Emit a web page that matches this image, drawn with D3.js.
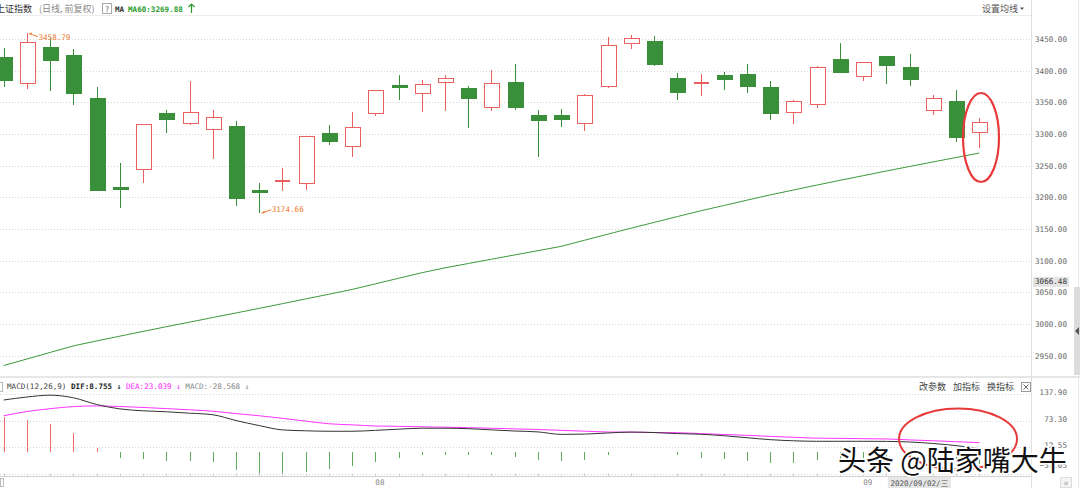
<!DOCTYPE html>
<html><head><meta charset="utf-8">
<script src="https://cdn.jsdelivr.net/npm/d3@7"></script>
<style>html,body{margin:0;padding:0;background:#fff;overflow:hidden}</style>
</head><body><svg id="c" width="1080" height="488"></svg>
<script>
// ---------- data (上证指数 daily, 2020-07-10 .. 2020-09-08) ----------
const dates = ["2020-07-10","2020-07-13","2020-07-14","2020-07-15","2020-07-16","2020-07-17","2020-07-20","2020-07-21","2020-07-22","2020-07-23","2020-07-24","2020-07-27","2020-07-28","2020-07-29","2020-07-30","2020-07-31",
"2020-08-03","2020-08-04","2020-08-05","2020-08-06","2020-08-07","2020-08-10","2020-08-11","2020-08-12","2020-08-13","2020-08-14","2020-08-17","2020-08-18","2020-08-19","2020-08-20","2020-08-21","2020-08-24","2020-08-25","2020-08-26","2020-08-27","2020-08-28","2020-08-31",
"2020-09-01","2020-09-02","2020-09-03","2020-09-04","2020-09-07","2020-09-08"];
const openV  = [3420.5,3380.0,3435.8,3423.2,3356.8,3216.0,3244.2,3332.1,3316.8,3307.4,3312.1,3210.0,3226.5,3222.1,3300.0,3281.0,3332.6,3377.0,3363.7,3381.6,3372.1,3342.1,3380.5,3328.4,3329.5,3316.8,3374.2,3443.2,3445.3,3387.4,3381.0,3392.1,3394.7,3373.2,3334.2,3346.8,3417.9,3391.0,3422.1,3405.3,3337.4,3351.0,3302.6];
const highV  = [3435.3,3458.79,3451.0,3433.7,3374.7,3253.7,3316.0,3337.9,3383.2,3337.9,3320.5,3222.1,3245.8,3296.0,3313.7,3334.7,3369.5,3392.6,3384.7,3393.2,3375.8,3401.0,3410.5,3337.4,3339.5,3363.2,3452.6,3456.0,3455.0,3395.8,3394.7,3398.4,3410.5,3384.2,3353.7,3407.4,3444.2,3413.0,3423.2,3426.3,3361.6,3370.0,3324.7];
const lowV   = [3374.2,3370.5,3367.9,3346.3,3209.5,3182.6,3222.1,3302.1,3313.7,3260.0,3186.8,3174.66,3210.5,3211.6,3283.1,3263.1,3328.9,3353.7,3335.3,3336.8,3308.9,3336.8,3337.4,3264.2,3311.6,3304.7,3372.1,3434.2,3407.4,3353.7,3359.5,3368.9,3365.3,3322.1,3315.3,3341.1,3396.5,3383.2,3378.9,3376.3,3330.5,3286.8,3278.4];
const closeV = [3384.7,3444.2,3416.3,3363.2,3211.0,3214.0,3315.3,3322.1,3334.2,3326.3,3198.4,3208.0,3228.0,3295.3,3288.4,3310.5,3368.9,3375.5,3378.4,3387.4,3356.3,3380.0,3342.1,3321.0,3322.1,3361.0,3440.5,3451.5,3409.5,3365.8,3382.0,3386.8,3374.7,3331.6,3351.0,3405.3,3397.4,3412.1,3407.4,3386.8,3356.3,3294.2,3317.9];
const ma60V  = [2934.3,2944.6,2955.0,2965.3,2973.2,2980.7,2988.2,2995.6,3002.8,3010.1,3017.3,3024.6,3032.0,3039.5,3046.9,3054.5,3063.3,3072.1,3080.9,3088.6,3095.4,3102.2,3109.0,3115.7,3122.5,3132.1,3141.7,3151.2,3160.3,3169.5,3178.6,3187.0,3195.5,3203.8,3211.5,3219.2,3226.8,3234.1,3241.5,3248.7,3255.8,3262.8,3269.88];
const difV   = [123.7,130.8,135.1,129.0,113.2,102.7,98.2,95.9,92.6,88.9,75.3,63.3,53.1,51.0,49.9,49.9,52.0,54.8,57.1,57.1,56.0,53.1,50.5,48.4,42.5,43.2,45.8,48.0,46.8,44.4,42.8,39.4,34.7,30.0,27.4,26.2,26.2,26.2,26.0,24.6,21.0,16.0,8.755];
const deaV   = [86.5,96.6,103.2,108.2,109.8,108.4,106.1,103.4,100.6,97.3,91.6,86.5,80.5,73.9,67.6,65.0,62.3,61.5,60.5,59.5,58.4,57.0,55.5,54.1,52.0,50.1,48.2,47.8,47.0,46.5,44.4,42.3,40.2,37.8,35.7,33.6,33.1,32.3,31.7,29.5,27.5,25.2,23.039];
const macdV  = [84.6,77.3,65.9,46.4,11.4,-12.2,-16.3,-20.3,-20.3,-23.6,-41.5,-50.4,-54.5,-45.5,-39.1,-33.3,-21.9,-13.0,-7.3,-5.7,-7.3,-6.5,-11.4,-18.7,-21.1,-18.7,-6.5,0.6,0.4,-6.5,-12.2,-15.4,-21.1,-25.2,-25.2,-17.1,-15.0,-13.0,-12.0,-13.0,-17.0,-22.0,-28.568];
const priceTicks = [2950,3000,3050,3100,3150,3200,3250,3300,3350,3400,3450];
const macdTicks = [137.90,73.30,12.55,-51.05];
const monthTickDates = ["2020-08-03","2020-09-01"];
const monthTickText = ["08","09"];
const hoverPrice = 3066.48;
const hoverDate = "2020-09-02";
const hoverDateText = "2020/09/02/三";

// ---------- drawing ----------
const svg = d3.select("#c");
const MONO = "'DejaVu Sans Mono', 'Liberation Mono', monospace";
const CJK = "'Noto Sans CJK SC', 'Noto Sans', sans-serif";
const GREEN = "#3a8f3a", RED = "#ec5f5f";
const plotR = 1031;

const x = d3.scalePoint().domain(dates).range([3.7, 979.3]);
const y = d3.scaleLinear().domain([2916.2, 3486.3]).range([377, 16]);
const ym = d3.scaleLinear().domain([-51.05, 137.90]).range([474, 394]);

// frame lines
svg.append("line").attr("x1",0).attr("x2",plotR).attr("y1",15.5).attr("y2",15.5).attr("stroke","#ececec");
svg.append("rect").attr("x",0).attr("y",376).attr("width",1080).attr("height",2).attr("fill","#e6e6e6");
svg.append("line").attr("x1",plotR+0.5).attr("x2",plotR+0.5).attr("y1",0).attr("y2",488).attr("stroke","#e0e0e0");
svg.append("line").attr("x1",1078.5).attr("x2",1078.5).attr("y1",0).attr("y2",488).attr("stroke","#e8e8e8");
svg.append("rect").attr("x",1074).attr("y",287).attr("width",6).attr("height",88).attr("fill","#dcdcdc");
svg.append("path").attr("d","M1079,327 L1075,331 L1079,335 Z").attr("fill","#555");

// price gridlines
svg.append("g").selectAll("line").data(priceTicks).join("line")
  .attr("x1",0).attr("x2",plotR).attr("y1",d=>Math.round(y(d))+0.5).attr("y2",d=>Math.round(y(d))+0.5)
  .attr("stroke","#d6d6d6").attr("stroke-dasharray","1,2");
// price axis
const ax = svg.append("g").attr("transform","translate(1036,0)")
  .call(d3.axisRight(y).tickValues(priceTicks).tickFormat(d3.format(".2f")).tickSize(0));
ax.select(".domain").remove();
ax.selectAll("text").attr("x",31).attr("text-anchor","end").attr("fill","#666")
  .style("font-family",MONO).style("font-size","7.6px");

// hover price label
svg.append("rect").attr("x",1033).attr("y",y(hoverPrice)-5).attr("width",36).attr("height",10).attr("fill","#e4e4e4");
svg.append("text").attr("x",1067).attr("y",y(hoverPrice)).attr("dy","0.32em").attr("text-anchor","end")
  .attr("fill","#333").style("font-family",MONO).style("font-size","7.6px").text(d3.format(".2f")(hoverPrice));

// MA60 line
const maData = dates.map((d,i)=>({d, v:ma60V[i]}));
svg.append("path").datum(maData).attr("fill","none").attr("stroke","#3c9a3c").attr("stroke-width",1)
  .attr("d", d3.line().x(p=>x(p.d)).y(p=>y(p.v)));

// candles
const bw = 15;
const cg = svg.append("g").attr("shape-rendering","crispEdges");
dates.forEach((d,i)=>{
  const o=openV[i], c=closeV[i], h=highV[i], l=lowV[i];
  const up = c >= o;
  const col = up ? RED : GREEN;
  const cx = Math.round(x(d)) + 0.5;
  const yt = y(Math.max(o,c)), yb = y(Math.min(o,c));
  const bh = Math.max(yb-yt, 2);
  if (up) {
    cg.append("line").attr("x1",cx).attr("x2",cx).attr("y1",y(h)).attr("y2",yt).attr("stroke",col);
    cg.append("line").attr("x1",cx).attr("x2",cx).attr("y1",yt+bh).attr("y2",y(l)).attr("stroke",col);
    if (yb-yt < 2.5) {
      cg.append("rect").attr("x",cx-bw/2).attr("y",yt).attr("width",bw).attr("height",bh).attr("fill",col);
    } else {
      cg.append("rect").attr("x",cx-bw/2).attr("y",yt).attr("width",bw).attr("height",bh)
        .attr("fill","#fff").attr("stroke",col);
    }
  } else {
    cg.append("line").attr("x1",cx).attr("x2",cx).attr("y1",y(h)).attr("y2",y(l)).attr("stroke",col);
    cg.append("rect").attr("x",cx-bw/2).attr("y",yt).attr("width",bw).attr("height",bh)
      .attr("fill",col).attr("stroke",col);
  }
});

// max / min annotations
const ORANGE = "#f07a30";
const iMax = d3.maxIndex(highV), iMin = d3.minIndex(lowV);
{
  const px = x(dates[iMax]), py = y(highV[iMax]);
  svg.append("path").attr("d",`M${px+2},${py} L${px+6},${py+1.5} L${px+11},${py+3.5}`).attr("fill","none").attr("stroke",ORANGE);
  svg.append("path").attr("d",`M${px+2},${py} l3,-1 l-0.5,2.5 Z`).attr("fill",ORANGE);
  svg.append("text").attr("x",px+11.5).attr("y",py+4.3).attr("dy","0.32em").attr("fill",ORANGE)
    .style("font-family",MONO).style("font-size","7.6px").text(d3.format(".2f")(highV[iMax]));
}
{
  const px = x(dates[iMin]), py = y(lowV[iMin]);
  svg.append("path").attr("d",`M${px+3},${py-0.5} L${px+7},${py-2} L${px+12},${py-3.5}`).attr("fill","none").attr("stroke",ORANGE);
  svg.append("path").attr("d",`M${px+2},${py} l3,-2.5 l0.5,2.5 Z`).attr("fill",ORANGE);
  svg.append("text").attr("x",px+12.5).attr("y",py-3.5).attr("dy","0.32em").attr("fill",ORANGE)
    .style("font-family",MONO).style("font-size","7.6px").text(d3.format(".2f")(lowV[iMin]));
}

// header
const hdr = svg.append("g").style("font-size","9px");
hdr.append("text").attr("x",-4).attr("y",12).attr("fill","#333").style("font-family",CJK).text("上证指数");
hdr.append("text").attr("x",39).attr("y",12).attr("fill","#888").style("font-family",CJK).text("(日线, 前复权)");
hdr.append("rect").attr("x",102.5).attr("y",3.5).attr("width",9).attr("height",10).attr("fill","none").attr("stroke","#aaa");
hdr.append("text").attr("x",107).attr("y",11.5).attr("text-anchor","middle").attr("fill","#666").style("font-family",MONO).style("font-size","7.6px").text("?");
hdr.append("text").attr("x",115).attr("y",11.5).attr("fill","#333").style("font-family",MONO).style("font-size","7.6px").style("font-weight","bold").text("MA");
hdr.append("text").attr("x",128).attr("y",11.5).attr("fill","#2a9a2a").style("font-family",MONO).style("font-size","7.6px").style("font-weight","bold")
  .text("MA60:" + d3.format(".2f")(ma60V[ma60V.length-1]));
hdr.append("path").attr("d","M191.5,4 L191.5,13 M188.5,7 L191.5,4 L194.5,7").attr("fill","none").attr("stroke","#2a9a2a").attr("stroke-width",1.2);
hdr.append("text").attr("x",982).attr("y",12).attr("fill","#555").style("font-family",CJK).text("设置均线");
hdr.append("path").attr("d","M1020,7.5 L1024,7.5 L1022,10 Z").attr("fill","#555");

// ---------- MACD panel ----------
svg.append("g").selectAll("line").data(macdTicks).join("line")
  .attr("x1",0).attr("x2",plotR).attr("y1",d=>Math.round(ym(d))+0.5).attr("y2",d=>Math.round(ym(d))+0.5)
  .attr("stroke","#d6d6d6").attr("stroke-dasharray","1,2");
const axm = svg.append("g").attr("transform","translate(1036,0)")
  .call(d3.axisRight(ym).tickValues(macdTicks).tickFormat(d3.format(".2f")).tickSize(0));
axm.select(".domain").remove();
axm.selectAll("text").attr("x",31).attr("text-anchor","end").attr("fill","#666")
  .style("font-family",MONO).style("font-size","7.6px");
axm.selectAll(".tick").attr("transform",d=>`translate(0,${Math.min(ym(d)-1.5,466)})`);

// histogram
const hg = svg.append("g").attr("shape-rendering","crispEdges");
dates.forEach((d,i)=>{
  const v = macdV[i];
  const cx = Math.round(x(d)) + 0.5;
  hg.append("line").attr("x1",cx).attr("x2",cx).attr("y1",ym(0)).attr("y2",ym(v))
    .attr("stroke", v>=0 ? "#f06a6a" : "#5daa5d");
});
// DIF / DEA
const difData = dates.map((d,i)=>({d,v:difV[i]}));
const deaData = dates.map((d,i)=>({d,v:deaV[i]}));
const lm = d3.line().x(p=>x(p.d)).y(p=>ym(p.v)).curve(d3.curveMonotoneX);
svg.append("path").datum(deaData).attr("fill","none").attr("stroke","#ff33ff").attr("stroke-width",1).attr("d",lm);
svg.append("path").datum(difData).attr("fill","none").attr("stroke","#333").attr("stroke-width",1).attr("d",lm);

// MACD header
svg.append("rect").attr("x",-4.5).attr("y",382.5).attr("width",7).attr("height",9).attr("fill","none").attr("stroke","#bbb");
const mh = svg.append("text").attr("x",7).attr("y",389).style("font-family",MONO).style("font-size","7.6px");
mh.append("tspan").attr("fill","#444").text("MACD(12,26,9) ");
mh.append("tspan").attr("fill","#222").style("font-weight","bold").text("DIF:"+difV[difV.length-1]+" \u2193 ");
mh.append("tspan").attr("fill","#ff22ff").text("DEA:"+deaV[deaV.length-1]+" \u2193 ");
mh.append("tspan").attr("fill","#888").text("MACD:"+macdV[macdV.length-1]+" \u2193");
const tools = svg.append("g").style("font-family",CJK).style("font-size","9px").attr("fill","#444");
tools.append("text").attr("x",919).attr("y",389.5).text("改参数");
tools.append("text").attr("x",953).attr("y",389.5).text("加指标");
tools.append("text").attr("x",987).attr("y",389.5).text("换指标");
svg.append("rect").attr("x",1021.5).attr("y",382.5).attr("width",9).attr("height",9).attr("fill","#fff").attr("stroke","#999");
svg.append("path").attr("d","M1023.5,384.5 L1028.5,389.5 M1028.5,384.5 L1023.5,389.5").attr("stroke","#666");

// x axis (bottom)
svg.append("line").attr("x1",0).attr("x2",plotR).attr("y1",476.5).attr("y2",476.5).attr("stroke","#d0d0d0");
svg.append("g").selectAll("line").data(dates).join("line")
  .attr("x1",d=>Math.round(x(d))+0.5).attr("x2",d=>Math.round(x(d))+0.5).attr("y1",473.5).attr("y2",476.5)
  .attr("stroke","#d0d0d0");
svg.append("g").selectAll("text").data(monthTickDates).join("text")
  .attr("x",d=>x(d)).attr("y",485).attr("fill","#888").style("font-family",MONO).style("font-size","7.6px")
  .text((d,i)=>monthTickText[i]);
svg.append("rect").attr("x",x(hoverDate)+1.5).attr("y",477).attr("width",63).attr("height",11).attr("fill","#e6e6e6");
svg.append("text").attr("x",x(hoverDate)+4).attr("y",485.5).attr("fill","#555")
  .style("font-family","'DejaVu Sans Mono', 'Noto Sans CJK SC', monospace").style("font-size","7.6px").text(hoverDateText);
svg.append("rect").attr("x",0.5).attr("y",478.5).attr("width",3).attr("height",8).attr("fill","none").attr("stroke","#bbb");
svg.append("rect").attr("x",1060.5).attr("y",477.5).attr("width",11).attr("height",10).attr("fill","#f4f4f4").attr("stroke","#ddd");
svg.append("text").attr("x",1066).attr("y",485.5).attr("text-anchor","middle").attr("fill","#999").style("font-family",MONO).style("font-size","8px").text("\u00bb");

// annotations (red hand-drawn ellipses)
svg.append("ellipse").attr("cx",981).attr("cy",137.5).attr("rx",18).attr("ry",44.5)
  .attr("fill","none").attr("stroke","#e83a3a").attr("stroke-width",2.2);
svg.append("ellipse").attr("cx",958).attr("cy",439).attr("rx",59).attr("ry",30.5)
  .attr("fill","none").attr("stroke","#e83a3a").attr("stroke-width",2);

// watermark
svg.append("text").attr("x",838).attr("y",471).attr("fill","#111").attr("stroke","#fff").attr("stroke-width",3)
  .attr("paint-order","stroke").style("font-family",CJK).style("font-size","28px").text("头条 @陆家嘴大牛");
</script></body></html>
